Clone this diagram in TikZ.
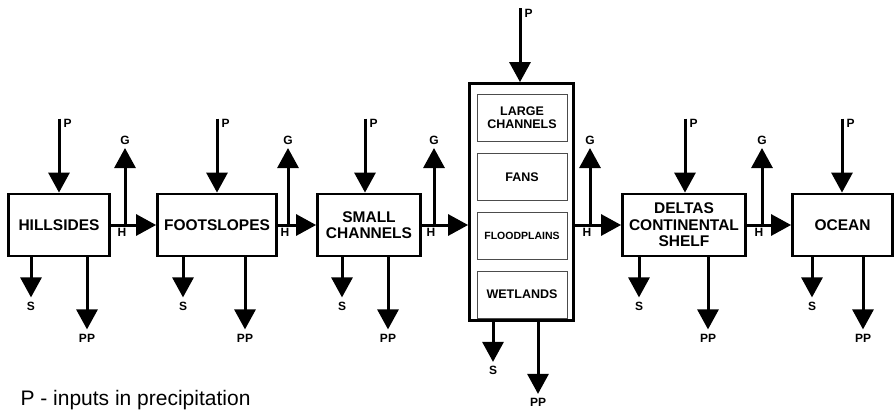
\documentclass[tikz,border=0pt]{standalone}
\usepackage{fontspec}
\setmainfont{Liberation Sans}
\usetikzlibrary{arrows.meta,positioning,calc}

\begin{document}
\begin{tikzpicture}[
    x=1pt, y=-1pt,
    box/.style={draw, line width=2.8pt, align=center, inner sep=0pt,
                minimum height=62pt, font=\fontsize{15.5}{16.5}\selectfont\bfseries},
    cell/.style={draw=black!70, line width=0.8pt, align=center, inner sep=0pt,
                 minimum width=90pt, minimum height=47pt,
                 font=\fontsize{12.5}{13}\selectfont\bfseries},
    arr/.style={-{Triangle[length=20pt,width=21pt]}, line width=3pt},
    flux/.style={font=\fontsize{12}{12}\selectfont\bfseries, inner sep=1.5pt}
  ]
    \useasboundingbox (0,0) rectangle (895,418);

    % compartments
    \node[box, minimum width=101pt] (hills) at (59,225) {HILLSIDES};
    \node[box, minimum width=119pt] (foot) at (217,225) {FOOTSLOPES};
    \node[box, minimum width=103pt] (small) at (369,225) {SMALL\\CHANNELS};
    \node[box, minimum width=104pt, minimum height=237pt] (big) at (521.5,202) {};
    \node[box, minimum width=123pt] (delta) at (684,225) {DELTAS\\CONTINENTAL\\SHELF};
    \node[box, minimum width=100pt] (ocean) at (842.5,225) {OCEAN};

    % parts of the large box
    \node[cell] (lchan) at (522,118) {LARGE\\CHANNELS};
    \node[cell, below=11pt of lchan] (fans) {FANS};
    \node[cell, below=11pt of fans, font=\fontsize{10.5}{11}\selectfont\bfseries] (flood) {FLOODPLAINS};
    \node[cell, below=11pt of flood] (wet) {WETLANDS};

    % inputs P, outputs S and PP
    \foreach \b/\p/\s/\q in {hills/59/31/87, foot/217/183/245, small/365/342/388,
                             big/520/493/538, delta/685/639/708, ocean/842/812/863}{
      \coordinate (\b-p) at ($(\p,0 |- \b.north)+(0,-74)$);
      \coordinate (\b-s) at ($(\s,0 |- \b.south)+(0,40)$);
      \coordinate (\b-q) at ($(\q,0 |- \b.south)+(0,72)$);
      \draw[arr] (\b-p) -- (\b-p |- \b.north);
      \draw[arr] (\b-s |- \b.south) -- (\b-s);
      \draw[arr] (\b-q |- \b.south) -- (\b-q);
      \node[flux, anchor=west] (\b-pl) at ($(\b-p)+(3,5)$) {P};
      \node[flux, below] (\b-sl) at ($(\b-s)+(0,3)$) {S};
      \node[flux, below] (\b-ql) at ($(\b-q)+(0,3)$) {PP};
    }

    % transfers H and outputs G
    \coordinate (hline) at (0,225);
    \foreach \a/\b/\g in {hills/foot/125, foot/small/288, small/big/434,
                          big/delta/590, delta/ocean/762}{
      \coordinate (\a-g) at (\g,225);
      \coordinate (\a-gt) at (\g,148);
      \draw[arr] (\a.east |- hline) -- (\b.west |- hline);
      \draw[arr] (\a-g) -- (\a-gt);
      \node[flux, above] (\a-gl) at ($(\a-gt)+(0,-2)$) {G};
      \node[flux, below] (\a-hl) at ($(\a-g)+(-3,2)$) {H};
    }

    \node[anchor=west, font=\fontsize{21}{22}\selectfont] (legend) at (17,400)
      {P - inputs in precipitation};
\end{tikzpicture}
\end{document}
